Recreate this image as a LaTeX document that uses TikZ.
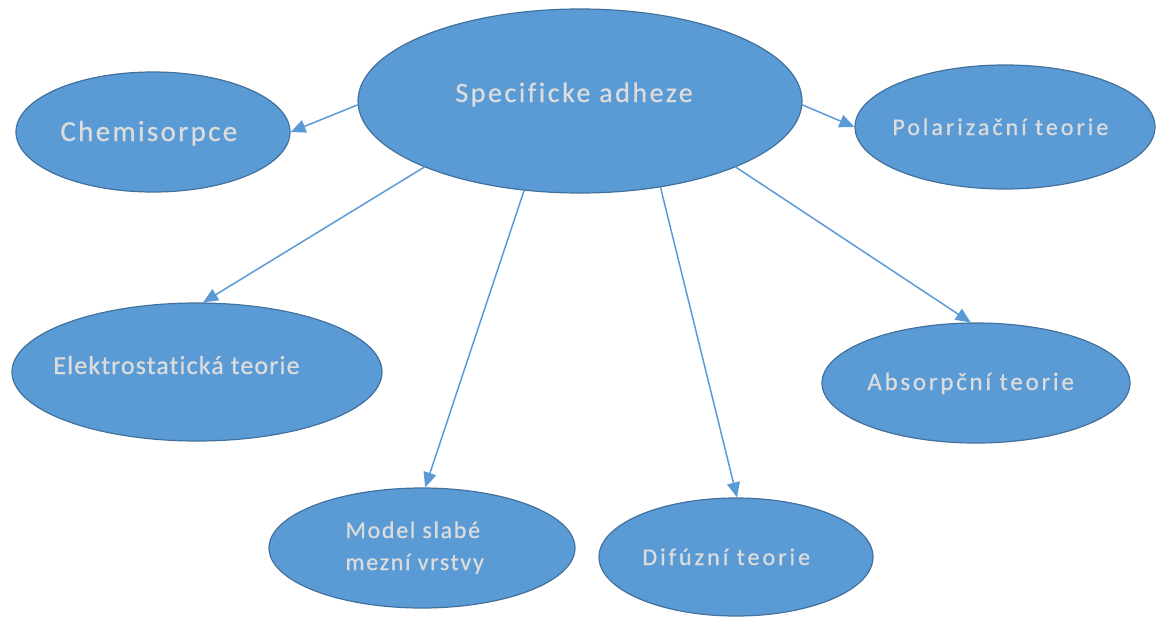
\documentclass[tikz,border=0pt]{standalone}
\usepackage{fontspec}
\setmainfont[Ligatures={NoCommon},RawFeature={-liga;-clig}]{Carlito}
\usetikzlibrary{shapes.geometric,arrows.meta}
\definecolor{ellfill}{HTML}{5B9BD5}
\definecolor{ellline}{HTML}{41719C}
\definecolor{txt}{HTML}{DCDCDC}
\newcommand{\lblfont}[2]{\fontsize{#1}{#1}\selectfont\addfontfeature{LetterSpace=#2,FakeBold=0.6}}
\begin{document}
\begin{tikzpicture}[x=0.5pt,y=-0.5pt,
  ell/.style={ellipse,draw=ellline,line width=0.6pt,fill=ellfill,inner sep=0pt},
  lbl/.style={anchor=base west,inner sep=0pt,text=txt},
  conn/.style={draw=ellfill,line width=0.75pt,-{Triangle[length=7.5pt,width=6.5pt]}}]
\useasboundingbox (0,0) rectangle (1157,616);
% ellipses
\node[ell,minimum width=444pt/2,minimum height=184pt/2] (c)  at (580,101) {};
\node[ell,minimum width=274pt/2,minimum height=120pt/2] (ch) at (153,132) {};
\node[ell,minimum width=370pt/2,minimum height=138pt/2] (el) at (197,372) {};
\node[ell,minimum width=300pt/2,minimum height=124pt/2] (po) at (1005,127) {};
\node[ell,minimum width=308pt/2,minimum height=120pt/2] (ab) at (976,383) {};
\node[ell,minimum width=306pt/2,minimum height=120pt/2] (mo) at (422,548) {};
\node[ell,minimum width=274pt/2,minimum height=118pt/2] (di) at (736,557) {};
% labels
\node[lbl,font=\lblfont{14}{9}]     (tc)  at (455,102) {Specificke adheze};
\node[lbl,font=\lblfont{14.5}{8}]   (tch) at (60,141) {Chemisorpce};
\node[lbl,font=\lblfont{13}{4.4}]   (tel) at (53,374) {Elektrostatická teorie};
\node[lbl,font=\lblfont{12}{12.5}]  (tpo) at (892,135) {Polarizační teorie};
\node[lbl,font=\lblfont{12.5}{11}]  (tab) at (867,390) {Absorpční teorie};
\node[lbl,font=\lblfont{12}{7},align=left] (tmo) at (345,570) {Model slabé\\[4pt]mezní vrstvy};
\node[lbl,font=\lblfont{12}{12.6}]  (tdi) at (642,565) {Difúzní teorie};
% connectors
\draw[conn] (c.181) -- (ch.0);
\draw[conn] (c.203) -- (el.85);
\draw[conn] (c.238) -- (mo.87);
\draw[conn] (c.313) -- (di.89);
\draw[conn] (c.337) -- (ab.95);
\draw[conn] (c.359) -- (po.180);
\end{tikzpicture}
\end{document}
